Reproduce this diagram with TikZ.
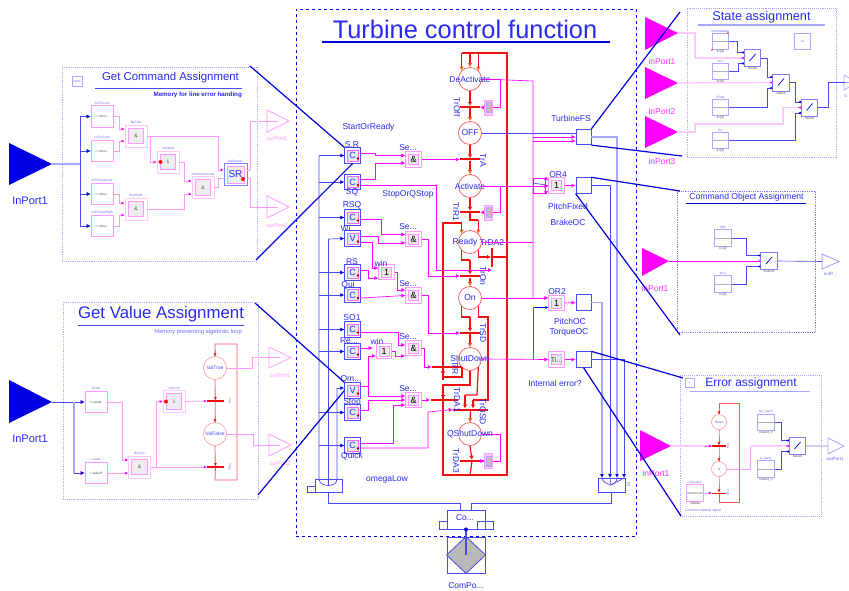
\documentclass[tikz,border=0pt]{standalone}
\usepackage{fontspec}
\setmainfont{Liberation Sans}
\usetikzlibrary{arrows.meta,calc}
\definecolor{tblue}{HTML}{2A2AF0}
\definecolor{dblue}{HTML}{0000E0}
\definecolor{mblue}{HTML}{4A4AF0}
\definecolor{lblue}{HTML}{A8A8FF}
\definecolor{pnk}{HTML}{FF33FF}
\definecolor{lpnk}{HTML}{FF99FF}
\definecolor{vpnk}{HTML}{FFC8FF}
\definecolor{mag}{HTML}{FF00FF}
\definecolor{rd}{HTML}{F01010}
\definecolor{org}{HTML}{F06010}
\newcommand\ft[1]{\fontsize{#1}{#1}\selectfont}
\tikzset{
 x=1pt,y=-1pt,
 txt/.style={inner sep=0pt,text=tblue,font=\ft{8.5}},
 ptxt/.style={inner sep=0pt,text=pnk,font=\ft{8.5}},
 tinyt/.style={inner sep=0pt,text=tblue!70,font=\ft{3.2}},
 frm/.style={draw=lblue,densely dotted,line width=.9pt,fill=white,inner sep=0pt},
 bw/.style={draw=mblue,line width=.7pt},
 bl/.style={draw=lblue,line width=1.3pt},
 bt/.style={bw,-{Latex[length=4pt,width=4pt,color=dblue]}},
 pw/.style={draw=mag,line width=.65pt},
 pl/.style={draw=lpnk,line width=.7pt},
 pv/.style={draw=vpnk,line width=1.3pt},
 pt/.style={pw,-{Latex[length=4pt,width=4pt]}},
 plt/.style={pl,-{Latex[length=3pt,width=3pt,color=mag]}},
 rw/.style={draw=rd,line width=1.2pt},
 rb/.style={draw=rd,line width=2pt,line join=miter},
 ra/.style={rw,-{Latex[length=4pt,width=4.5pt,color=rd]}},
 ro/.style={rw,-{Latex[length=4pt,width=4.5pt,color=org]}},
 st/.style={circle,draw=rd!75,fill=white,line width=.6pt,minimum size=23pt,inner sep=0pt},
 tbar/.style={fill=rd,inner sep=0pt,minimum height=2pt,minimum width=20pt},
 vbar/.style={fill=rd,inner sep=0pt,minimum height=19pt,minimum width=1.6pt},
 diag/.style={draw=dblue,line width=1.2pt},
 obox/.style={draw=mblue,line width=.8pt,fill=white,minimum width=15pt,minimum height=15.5pt,inner sep=0pt},
 outb/.style={draw=mblue,line width=.8pt,fill=white,minimum size=15.5pt,inner sep=0pt},
 inn/.style={draw=mag!60,line width=.7pt,fill=gray!18,minimum size=11pt,inner sep=0pt,text=tblue,font=\ft{9}},
 pout/.style={draw=mag!70,line width=.7pt,fill=white,minimum size=15.5pt,inner sep=0pt},
 pblk/.style={draw=lpnk,line width=.7pt,fill=white,minimum width=22pt,minimum height=21.5pt,inner sep=0pt,text=black!70,font=\ft{3.2}},
 pgrp/.style={draw=vpnk,line width=.8pt,fill=white,minimum size=22pt,inner sep=0pt},
 pgin/.style={draw=lpnk,line width=.6pt,fill=gray!14,minimum size=15.5pt,inner sep=0pt,text=black!70,font=\ft{5}},
 kblk/.style={draw=lblue,line width=.7pt,fill=white,minimum width=16.5pt,minimum height=16.5pt,inner sep=0pt},
 tiks/.style={draw=lpnk,line width=.7pt,fill=vpnk,minimum width=8.5pt,minimum height=15pt,inner sep=0pt},
 tiki/.style={draw=lblue,fill=gray!50,minimum width=4.5pt,minimum height=10pt,inner sep=0pt},
}
\newcommand\cblk[4]{\node[outb] (#1) at (#2,#3) {};\node[inn] (#1-i) at (#2,#3) {#4};\fill[red!70!black] (#2+5.5,#3+3) circle (1.3pt);}
\newcommand\lgk[4]{\node[pout,draw=lpnk] (#1) at (#2,#3) {};\node[inn,minimum size=10pt,draw=lpnk,text=black] (#1-i) at (#2,#3) {#4};}
\newcommand\pgb[5]{\node[pgrp] (#1) at (#2,#3) {};\node[pgin] (#1-i) at (#2,#3) {#4};\node[tinyt] (#1-l) at (#2,#3-13.5) {#5};}
\newcommand\pbk[5]{\node[pblk] (#1) at (#2,#3) {#4};\node[tinyt] (#1-l) at (#2,#3-13.5) {#5};}
\newcommand\kbk[5]{\node[kblk] (#1) at (#2,#3) {};\draw[draw=gray!60,line width=.8pt] (#1.west) -- (#1.east);\node[tinyt] (#1-a) at (#2,#3-10.5) {#4};\node[tinyt,text=black!70] (#1-b) at (#2,#3+10.5) {#5};}
\newcommand\swb[4]{\node[kblk,draw=mblue!70,minimum height=17pt] (#1) at (#2,#3) {};\draw[draw=dblue,line width=.7pt] (#2-3,#3+3) -- (#2+3,#3-4);\node[tinyt,text=black!70] (#1-l) at (#2,#3+10.5) {#4};}
\newcommand\tri[7]{\fill[#7] (#2,#3) -- (#2,#4) -- (#5,#6) -- cycle;\coordinate (#1) at (#5,#6);}
\newcommand\otri[7]{\draw[#7,line width=.7pt,fill=white] (#2,#3) -- (#2,#4) -- (#5,#6) -- cycle;\coordinate (#1) at (#2,#6);}
\newcommand\lab[4][txt]{\node[#1] at #3 (#2) {#4};}
\newcommand\rlab[3]{\node[txt,rotate=-90] at #2 (#1) {#3};}
\newcommand\sw[1]{\fill[dblue] ([yshift=5.5pt,xshift=-3pt]#1.west) -- ++(3,-1.2) -- ++(0,2.4) -- cycle;
 \fill[mag] ([xshift=-3pt]#1.west) -- ++(3,-1.2) -- ++(0,2.4) -- cycle;
 \fill[dblue] ([yshift=-5.5pt,xshift=-3pt]#1.west) -- ++(3,-1.2) -- ++(0,2.4) -- cycle;}
\begin{document}
\begin{tikzpicture}
\useasboundingbox (0,0) rectangle (849,591);
\fill[white] (0,0) rectangle (849,591);

%================ main frame
\node[draw=dblue,dashed,line width=.8pt,minimum width=340pt,minimum height=527pt,inner sep=0pt] (main) at (466,273) {};
\node[txt,font=\ft{25.4}] (title) at (465,29) {Turbine control function};
\draw[dblue,line width=1.2pt] (322,42) -- (610,42);

%---------------- left column blocks
\cblk{SR}{352.5}{155.5}{C}
\cblk{SQ}{352.5}{182}{C}
\cblk{RSQ}{352.5}{217.5}{C}
\cblk{Wi}{352.5}{238.5}{V}
\cblk{RS}{352.5}{272.5}{C}
\cblk{Qui}{352.5}{295}{C}
\cblk{SOa}{352.5}{329.5}{C}
\cblk{Re}{352.5}{351.5}{C}
\cblk{Om}{352.5}{390.5}{V}
\cblk{Stop}{352.5}{412.5}{C}
\cblk{Quick}{352.5}{445.5}{C}
\lab{lSR}{(352,145)}{S.R}
\lab{lSQ}{(352,192.5)}{SQ}
\lab{lRSQ}{(352,205)}{RSQ}
\lab{lWi}{(349,228)}{Wi...}
\lab{lRS}{(352,262)}{RS}
\lab{lQui}{(348,285)}{Qui}
\lab{lSO}{(352,318)}{SO1}
\lab{lRe}{(349,341)}{Re...}
\lab{lOm}{(351,379)}{Om...}
\lab{lStop}{(352,402)}{Stop}
\lab{lQuick}{(352,456)}{Quick}
\lab{lStart}{(368.5,127)}{StartOrReady}
\lab{lStopQ}{(408,194)}{StopOrQStop}
\lab{lOmega}{(387,479)}{omegaLow}

%---------------- logic blocks
\lgk{Sa}{413.5}{159.5}{\&}
\lgk{Sb}{413.5}{239}{\&}
\lgk{Sc}{413.5}{295.5}{\&}
\lgk{Sd}{413.5}{348}{\&}
\lgk{Se}{413.5}{400}{\&}
\lgk{Wa}{386.5}{272}{1}
\lgk{Wb}{384}{351}{1}
\lab{lSa}{(408,148)}{Se...}
\lab{lSb}{(408,227)}{Se...}
\lab{lSc}{(408,284)}{Se...}
\lab{lSd}{(408,336.5)}{Se...}
\lab{lSe}{(408,388.5)}{Se...}
\lab{lWa}{(381,263)}{win}
\lab{lWb}{(377,341)}{win}

%---------------- bottom component
\node[draw=mblue,line width=.8pt,fill=white,minimum width=38pt,minimum height=19pt,inner sep=0pt] (Co) at (466,519.5) {};
\lab{lCo}{(465,518)}{Co...}
\node[draw=mblue,line width=.8pt,minimum width=8pt,minimum height=8pt,inner sep=0pt] (CoA) at (443,525) {};
\node[draw=mblue,line width=.8pt,minimum width=8pt,minimum height=8pt,inner sep=0pt] (CoB) at (481,525) {};
\node[draw=mblue,line width=.8pt,minimum width=8pt,minimum height=8pt,inner sep=0pt] (CoC) at (489,525) {};
\node[draw=mblue,line width=.9pt,minimum width=38pt,minimum height=36pt,inner sep=0pt] (Cmp) at (466,555) {};
\fill[gray!55] (Cmp.west) -- (Cmp.north) -- (Cmp.east) -- (Cmp.south) -- cycle;
\draw[mblue,line width=.8pt] (Cmp.west) -- (Cmp.north) -- (Cmp.east) -- (Cmp.south) -- cycle;
\draw[mblue,line width=1.2pt] (Co.south) -- (Cmp.center);
\fill[dblue] (Co.south) circle (2pt);
\lab{lCmp}{(466,586)}{ComPo...}

%---------------- buses
\coordinate (busA) at (319,156);
\coordinate (busB) at (328,239);
\coordinate (busC) at (337,388);
\node[draw=mblue,line width=.8pt,minimum width=27pt,minimum height=13pt,inner sep=0pt] (muxL) at (328.5,485.5) {};
\node[draw=mblue,line width=.7pt,minimum width=8pt,minimum height=6pt,inner sep=0pt] (muxLs) at (311,489) {};
\draw[bw] (busA) -- (busA |- muxL.north) .. controls (319,484) and (324,485) .. (muxL.center);
\draw[bw] (busB) -- (busB |- muxL.center);
\draw[bw] (busC) -- (busC |- muxL.north) .. controls (337,484) and (333,485) .. (muxL.center);
\foreach \n in {SR,SQ,RSQ,RS,Qui,SOa,Re,Stop,Quick}{\draw[bt] (busA |- \n.west) -- (\n.west);}
\draw[bt] (busB) -- (Wi.west);
\draw[bt] (busC) -- (busC -| Om.west);
\draw[bw] (muxL.south) -- ++(0,11) -| (Co.120);

%---------------- pink wires of the logic
\draw[pt] ([yshift=2.5pt]SR.east) -- ++(15,0) |- ([yshift=4pt]Sa.west);
\draw[pt] ([yshift=3pt]SQ.east) -- ++(15,0) |- ([yshift=-3.5pt]Sa.west);
\draw[pt] ([yshift=-1.5pt]RSQ.east) -- ++(21,0) |- ([yshift=4.5pt]Sb.west);
\draw[pt] ([yshift=2.5pt]Wi.east) -- ++(18,0) |- ([yshift=-4pt]Sb.west);
\draw[pt] ([yshift=-3.5pt]Wi.east) -- ++(12,0) |- ([yshift=4pt]Wa.west);
\draw[pt] ([yshift=2.5pt]RS.east) -- ++(8,0) |- ([yshift=-6pt]Wa.west);
\draw[pt] (Wa.east) -- ++(3,0) |- ([yshift=5.5pt]Sc.west);
\draw[pt] ([yshift=-3pt]Qui.east) -- (Sc.west);
\draw[pt] ([yshift=-2.5pt]SOa.east) -- ++(38,0) |- ([yshift=3pt]Sd.west);
\draw[pt] ([yshift=3.5pt]Re.east) -- ++(12,0);
\draw[pt] ([yshift=4.5pt]Om.east) -- ++(8,0) |- ([yshift=-5pt]Wb.west);
\draw[pt] (Wb.east) -- ++(3,0) |- ([yshift=-8pt]Sd.west);
\draw[pt] ([yshift=4.5pt]Om.east) ++(8,0) |- ([yshift=4pt]Se.west);
\draw[pt] ([yshift=2.5pt]Stop.east) -- ++(8,0) |- (Se.west);
\draw[pt] ([yshift=2.5pt]Quick.east) -- ++(33,0) |- ([yshift=-5pt]Se.west);

%================ state machine
\coordinate (loopT) at (507,53);
\node[st] (sDe) at (470,79) {};
\node[st] (sOff) at (470,133) {};
\node[st] (sAct) at (470,186) {};
\node[st] (sRdy) at (470,242) {};
\node[st] (sOn) at (470,298) {};
\node[st] (sSD) at (470,359) {};
\node[st] (sQ) at (470,434) {};
\node[tbar] (tOff) at (470,107) {};
\node[tbar] (tA) at (470,159.5) {};
\node[tbar] (tRa) at (470,212) {};
\node[tbar,minimum height=2.6pt] (tOn) at (470,276) {};
\node[tbar] (tSD) at (470,333) {};
\node[tbar,minimum width=30pt,minimum height=2.6pt] (tRb) at (447,367) {};
\node[tbar,minimum width=27pt,minimum height=2.6pt] (tDAa) at (444,400) {};
\node[tbar,minimum width=35pt] (tQSD) at (470.5,409.5) {};
\node[tbar,minimum width=24pt] (tDAc) at (472,461) {};
\node[vbar] (tRDA) at (492,257) {};
% outer loop
\draw[rb] (sDe.135 |- loopT) -- (loopT) -- (507,475) -- (443,475) -- (443,385) -- (470,385) -- (sSD.south);
\draw[rb] (sRdy.135 |- 443,223) -- (443,223) -- (443,377) -- (sSD.225 |- 443,377) -- (sSD.225);
\draw[ro] (sDe.135 |- loopT) -- (sDe.135);
\draw[ro] (sDe.north |- loopT) -- (sDe.north);
\draw[ro] (sDe.45 |- loopT) -- (sDe.45);
\draw[ro] (tOff) -- (sOff.north);
\draw[ra] (sDe.south) -- (tOff.north);
\draw[ra] (sOff.south) -- (tA.north);
\draw[ro] (tA) -- (sAct.north);
\draw[ra] (sAct.south) -- (tRa.north);
\draw[rw] (tRa) -- (470,220) -- (sRdy.45 |- 470,220);
\draw[ro] (sRdy.45 |- 470,220) -- (sRdy.45);
\draw[ro] (sRdy.135 |- 443,223) -- (sRdy.135);
\draw[rw] (sRdy.225) -- (sRdy.225 |- 470,260) -- (470,260);
\draw[ra] (470,260) -- (tOn.north);
\draw[ro] (tOn) -- (sOn.north);
\draw[ra] (sRdy.315) |- (tRDA.west);
\draw[rb] (tRDA.center) -- (tRDA -| loopT);
\draw[rw] (sOn.225) -- (sOn.225 |- 470,317) -- (470,317);
\draw[ra] (470,317) -- (tSD.north);
\draw[ro] (tSD) -- (sSD.north);
\draw[rw] (sOn.315) -- (sOn.315 |- 488,317) -- (488,317) -- (488,400) -- (473,400);
\draw[ra] (473,400) -- (473,408.5);
\draw[rw] (sSD.315) -- (477,395) -- (465,395);
\draw[ra] (465,395) -- (465,408.5);
\draw[ra] (443,380) -- (443,368.5);
\draw[ra] (443,385) -- (443,399);
\draw[ro] (tQSD) -- (sQ.north);
\draw[ra] (sQ.south) -- (tDAc.north);
\draw[rw] (tDAc) -- (470,475);
% small feedback boxes
\node[tiks] (bOff) at (488.5,107.5) {};\node[tiki] (bOff-i) at (488.5,107.5) {};
\node[tiks] (bR) at (488.5,212.5) {};\node[tiki] (bR-i) at (488.5,212.5) {};
\node[tiks] (bQ) at (488.5,461) {};\node[tiki] (bQ-i) at (488.5,461) {};
\draw[pt] (bOff.west) -- (tOff.east);
\draw[pt] (bR.west) -- (tRa.east);
\draw[pt] (bQ.west) -- (tDAc.east);
\draw[pw] (sDe.east) -- (500,79) |- (bOff.east);
\draw[pw] (sAct.east) -- (500,186) |- (bR.east);
\draw[pw] (sQ.east) -- (500,434) |- (bQ.east);
% state labels
\lab{lDe}{(470,79.5)}{DeActivate}
\lab{lOff}{(470,133)}{OFF}
\lab{lAct}{(470,186)}{Activate}
\lab{lRdy}{(465,242)}{Ready}
\lab{lRDA}{(492,243)}{TrDA2}
\lab{lOn}{(470,298)}{On}
\lab{lSD}{(470,358.5)}{ShutDown}
\lab{lQ}{(470,434)}{QShutDown}
\rlab{rOff}{(457,107)}{TrOff}
\rlab{rA}{(483,160)}{TrA}
\rlab{rR}{(456,212)}{TrR1}
\rlab{rOn}{(483,276)}{TrOn}
\rlab{rSD}{(483,333)}{TrSD}
\rlab{rRb}{(455,368)}{TrR}
\rlab{rDAa}{(457,400)}{TrDA1}
\rlab{rQSD}{(482,412)}{TrQSD}
\rlab{rDAc}{(456,461)}{TrDA3}

% wires into state machine
\draw[pw,line width=1pt,-{Latex[length=4pt,width=4pt]}] (Sa.east) -- (tA.west);
\draw[pt] (Sb.east) -- (428,239) |- (tOn.west);
\draw[pt] (Sc.east) -- (428,295.5) |- (tSD.west);
\draw[pt] (Sd.east) -- (424,348) |- (tRb.west);
\draw[pw,line width=1pt,-{Latex[length=4pt,width=4pt]}] (Se.east) -- (tDAa.west);
\draw[pt] ([yshift=-3pt]SQ.east) -- (436,185) -- (436,270) -- (tRDA.south |- 436,270);
\draw[pt] ([yshift=-2.5pt]Quick.east) -- (428,448) -- (428,412) -- (tQSD.west);

%================ right-hand column
\node[obox] (oA) at (583.5,137) {};
\node[obox] (oB) at (583.5,185.5) {};
\node[obox] (oC) at (583.5,302.5) {};
\node[obox] (oD) at (583.5,359.5) {};
\lgk{ORa}{556.5}{185.5}{1}
\lgk{ORb}{556.5}{303}{1}
\lgk{Ti}{556.5}{359.5}{}
\node[inner sep=0pt,text=black!70,font=\ft{7}] (Ti-t) at (556.5,359.5) {Ti...};
\lab{lOFS}{(571,118)}{TurbineFS}
\lab{lORa}{(558,175)}{OR4}
\lab{lPF}{(568,206)}{PitchFixed}
\lab{lBr}{(568,222)}{BrakeOC}
\lab{lORb}{(557,292)}{OR2}
\lab{lPO}{(570,321)}{PitchOC}
\lab{lTO}{(569,332)}{TorqueOC}
\lab{lIE}{(555,383)}{Internal error?}
% pink vertical bus
\coordinate (pvb) at (533,81);
\draw[pw] (sDe.east) -- (pvb) -- (533,298);
\draw[pw] (sRdy.east) -- (533,242);
\draw[bw,line width=.9pt] (sOff.east) -- (sOff -| oA.west);
\draw[pt] (533,137) -- (oA.west);
\draw[pt] (533,141) -- ([yshift=-4pt]oA.west);
\draw[pw] (533,178) -- (545,178) -- (545,193) -- (533,193) -- cycle;
\draw[bw] (533,183) -- (ORa.west);
\draw[pt] (sAct.east) -- ([yshift=-.5pt]ORa.west);
\draw[pt] (545,178) -- ([yshift=5pt]ORa.west);
\draw[pt] (545,193) -- ([yshift=-5pt]ORa.west);
\draw[pt] (ORa.east) -- (oB.west);
\draw[pt] (sOn.east) -- ([yshift=5pt]ORb.west);
\draw[pt] (ORb.east) -- (oC.west);
\draw[pt] (sSD.east) -- (Ti.west);
\draw[pt] (Ti.east) -- (oD.west);
\draw[bw] (533,359.5) -- (533,307.5) -- ([yshift=-4.5pt]ORb.west);
\draw[-{Latex[length=3pt,width=3pt]},dblue,line width=.6pt] (535,307.5) -- ([yshift=-4.5pt]ORb.west);

% right mux
\node[draw=mblue,line width=.8pt,minimum width=27pt,minimum height=14pt,inner sep=0pt] (muxR) at (611.5,485) {};
\draw[bl,-{Latex[length=4pt,width=4pt,color=dblue]}] (oA.east) -- (617,137) -- (617,478);
\draw[bw,-{Latex[length=4pt,width=4pt,color=dblue]}] (oB.east) -- (610,185.5) -- (610,478);
\draw[bl,-{Latex[length=4pt,width=4pt,color=dblue]}] (oC.east) -- (602,302.5) -- (602,478);
\draw[bw,-{Latex[length=4pt,width=4pt,color=dblue]}] (oD.east) -- (624,359.5) -- (624,478);
\draw[bw] (602,478) .. controls (602,482) and (608,484) .. (611,485) .. controls (614,484) and (617,482) .. (617,478);
\draw[bw] (610,478) -- (611,485) -- (624,478);
\node[tinyt,font=\ft{4.5},rotate=90] (muxRl) at (628.5,485) {M};
\draw[bw] (muxR.south) -- ++(0,11) -| (Co.60);

%================ panel: Get Command Assignment
\node[frm,minimum width=195pt,minimum height=194pt] (pA) at (159.5,164) {};
\node[txt,font=\ft{11.4}] (pAt) at (170.5,77.5) {Get Command Assignment};
\draw[mblue,line width=.7pt] (95,88) -- (242,88);
\node[txt,font=\bfseries\ft{6.2},anchor=east] (pAs) at (242,95) {Memory for  line error handing};
\node[draw=lblue,line width=.7pt,minimum size=10pt,inner sep=0pt,tinyt] (pAb) at (77,81) {com1};
\tri{ipA}{9}{143}{185}{52}{164}{dblue}
\lab[txt,font=\ft{11}]{lipA}{(30,201)}{InPort1}
\pbk{aA}{102}{116.5}{> const...}{GrTh.Com}
\pbk{aB}{102}{151}{> const...}{LoTh.Com}
\pbk{aC}{102}{194}{> const...}{GrTh.ComLow}
\pbk{aD}{102}{226}{> const...}{LoTh.ComHigh}
\pgb{aBy}{136}{136}{\&}{ByCom}
\pgb{aHq}{136}{209}{\&}{HeqSwBr}
\pgb{aNo}{168}{162}{1}{noReset}
\pgb{aOt}{203}{187.5}{\&}{OtherCommand}
\node[draw=mblue!70,fill=white,line width=.7pt,minimum width=23pt,minimum height=21.5pt,inner sep=0pt] (aSR) at (235.5,174.5) {};
\node[pgin,text=tblue,font=\ft{10},minimum size=17pt] (aSR-i) at (235.5,174.5) {SR};
\node[tinyt] (aSR-l) at (235,161) {SetReset1};
\otri{oA1}{267}{110}{132}{289}{121}{lpnk}
\otri{oA2}{267}{196}{218}{289}{207}{lpnk}
\lab[ptxt,font=\ft{5.5},text=lpnk]{loA1}{(277,139)}{outPort1}
\lab[ptxt,font=\ft{5.5},text=lpnk]{loA2}{(277,226)}{outPort2}
\draw[bl] (ipA) -- (80,164);
\draw[bw] (80,116.5) -- (80,226);
\foreach \n in {aA,aB,aC,aD}{\draw[bt,line width=.5pt] (80,0 |- \n.west) -- (\n.west);}
\draw[plt] (aA.east) -- (119,116.5) |- ([yshift=7pt]aBy.west);
\draw[plt] (aB.east) -- (119,151) |- ([yshift=-5pt]aBy.west);
\draw[plt] (aC.east) -- (119,194) |- ([yshift=6pt]aHq.west);
\draw[plt] (aD.east) -- (119,226) |- ([yshift=-6pt]aHq.west);
\draw[plt] (aBy.east) -- (218,136) |- ([yshift=4.5pt]aSR.west);
\draw[plt] (150,136) |- (aNo.west);
\fill[rd] (160.5,162) circle (2pt);
\draw[plt] (aNo.east) -- (184,162) |- ([yshift=6.5pt]aOt.west);
\draw[plt] (aHq.east) -- (184,209) |- ([yshift=-6.5pt]aOt.west);
\draw[pl] (aOt.east) -- (218,187.5) |- ([yshift=-3.5pt]aSR.west);
\draw[pl] ([yshift=4.5pt]aSR.east) -- (250,170) |- (oA1);
\draw[pl] ([yshift=-3.5pt]aSR.east) -- (250,178) |- (oA2);
\draw[pl] (oA1) -- (278,121);
\draw[pl] (oA2) -- (278,207);
\fill[rd] (243,179) circle (2pt);

%================ panel: Get Value Assignment
\node[frm,minimum width=195pt,minimum height=197pt] (pB) at (160.5,400.5) {};
\node[txt,font=\ft{16.8}] (pBt) at (161,314) {Get Value Assignment};
\draw[mblue,line width=.9pt] (78,325) -- (244,325);
\node[txt,text=mblue!80,font=\ft{5.8},anchor=east] (pBs) at (242,332) {Memory preventing algebraic loop};
\tri{ipB}{9}{380}{423}{52}{402}{dblue}
\lab[txt,font=\ft{11}]{lipB}{(30,439)}{InPort1}
\pbk{bG}{96}{402}{> valueL}{GrVal}
\pbk{bL}{96}{473}{< valueR}{LoVal}
\pgb{bBy}{139.5}{467}{\&}{ByCom}
\pgb{bNo}{174}{401.5}{1}{NoCom}
\node[st,draw=rd!50,line width=.5pt] (bT) at (215,368) {};
\node[st,draw=rd!50,line width=.5pt] (bF) at (215,434) {};
\lab[txt,font=\ft{5},text=mblue]{lbT}{(215,368)}{ValTrue}
\lab[txt,font=\ft{5},text=mblue]{lbF}{(215,434)}{ValFalse}
\node[tbar,minimum width=17pt,minimum height=1.5pt] (bTa) at (215.5,401) {};
\node[tbar,minimum width=17pt,minimum height=1.5pt] (bTb) at (215.5,467) {};
\node[tinyt,rotate=-90] (rTa) at (230,401) {TrA};
\node[tinyt,rotate=-90] (rTb) at (230,467) {TrA1};
\draw[draw=rd!70,line width=.8pt] (bT.north) -- (215,344) -- (237,344) -- (237,480) -- (215,480) -- (bTb);
\draw[draw=rd!40,line width=1.2pt] (bT.south) -- (bTa) -- (bF.north);
\draw[draw=rd!40,line width=1.2pt] (bF.south) -- (bTb);
\draw[-{Latex[length=3pt,width=3pt,color=rd]},draw=rd!60,line width=.5pt] (215,350) -- (bT.north);
\draw[-{Latex[length=3pt,width=3pt,color=rd]},draw=rd!60,line width=.5pt] (215,390) -- (bTa.north);
\draw[-{Latex[length=3pt,width=3pt,color=rd]},draw=rd!60,line width=.5pt] (215,416) -- (bF.north);
\draw[-{Latex[length=3pt,width=3pt,color=rd]},draw=rd!60,line width=.5pt] (215,456) -- (bTb.north);
\otri{oB1}{269}{347}{368}{291}{357.5}{lpnk}
\otri{oB2}{269}{434}{456}{291}{445}{lpnk}
\lab[ptxt,font=\ft{5.5},text=lpnk]{loB1}{(280,376)}{outPort1}
\lab[ptxt,font=\ft{5.5},text=lpnk]{loB2}{(280,464)}{outPort2}
\draw[bt,line width=.6pt] (ipB) -- (bG.west);
\draw[bl] (74,402) -- (74,473);
\draw[bt,line width=.6pt] (74,473) -- (bL.west);
\draw[plt] (bG.east) -- (122,402) |- ([yshift=7pt]bBy.west);
\draw[plt] (bL.east) -- ([yshift=-6pt]bBy.west);
\draw[plt] (bBy.east) -- (bTb.west);
\draw[plt] (156,467) |- (bNo.west);
\fill[rd] (166,401.5) circle (2pt);
\draw[plt] (bNo.east) -- (bTa.west);
\draw[pl] (bT.east) -- (252,368) |- (280,357.5);
\draw[pl] (bF.east) -- (253,434) |- (280,445);

%================ panel: State assignment
\node[frm,minimum width=149pt,minimum height=149pt] (pC) at (761.5,82.5) {};
\node[txt,font=\ft{12.7}] (pCt) at (761.5,17) {State assignment};
\draw[lblue,line width=1.3pt] (698,25) -- (825,25);
\tri{ipCa}{645}{17}{50}{678}{33}{mag}
\tri{ipCb}{645}{67}{99}{678}{83}{mag}
\tri{ipCc}{645}{116}{148}{678}{132}{mag}
\lab[ptxt]{lCa}{(662,61)}{inPort1}
\lab[ptxt]{lCb}{(662,111)}{inPort2}
\lab[ptxt]{lCc}{(662,161)}{inPort3}
\kbk{cA}{720.5}{41.5}{Intermediate}{k=[0]}
\kbk{cB}{720.5}{71.5}{Int1}{k=[0]}
\kbk{cC}{720.5}{107.5}{Fixed}{k=[0]}
\kbk{cD}{720.5}{140.5}{Err}{k=[0]}
\node[kblk,tinyt] (cX) at (802.5,41.5) {x1};
\swb{sA}{752.5}{58}{Switch}
\swb{sB}{781}{82.5}{Switch}
\swb{sC}{809.5}{107.5}{Switch}
\fill[rd] (728,33) circle (.9pt) (712,50) circle (.9pt);
\draw[bw,line width=.5pt] (cA.east) -- (737,41.5) |- ([yshift=5.5pt]sA.west);
\draw[bw,line width=.5pt] (cB.east) -- (738,71.5) |- ([yshift=-5.5pt]sA.west);
\draw[pv] (ipCa) -- (695,33) |- (sA.west);
\draw[pv] (ipCb) -- (sB.west);
\draw[pv] (ipCc) -- (695,132) |- (783,124) |- (sC.west);
\draw[bw,line width=.5pt] (sA.east) -- (767,58) |- ([yshift=5.5pt]sB.west);
\draw[bw,line width=.5pt] (cC.east) -- (767,107.5) |- ([yshift=-5.5pt]sB.west);
\draw[bw,line width=.5pt] (sB.east) -- (795,82.5) |- ([yshift=5.5pt]sC.west);
\draw[bw,line width=.5pt] (cD.east) -- (795,140.5) |- ([yshift=-5.5pt]sC.west);
\sw{sA}\sw{sB}\sw{sC}
\coordinate (cOut) at (845,82);
\draw[lblue,line width=.7pt] (849,78) -- (844,75) -- (844,90) -- (849,87);
\draw[bw,line width=.5pt] (sC.east) -- (828,107.5) |- (cOut);
\draw[draw=mblue!50,line width=.8pt] (cOut) -- (849,82);
\node[tinyt,font=\ft{4}] (lcO) at (846,96) {O};

%================ panel: Command Object Assignment
\node[draw=mblue!70,densely dotted,line width=.8pt,fill=white,minimum width=138pt,minimum height=141pt,inner sep=0pt] (pD) at (746,261.5) {};
\node[txt,font=\ft{8.6}] (pDt) at (746.5,197.5) {Command  Object Assignment};
\draw[dblue,line width=.7pt] (686,203) -- (806,203);
\tri{ipD}{642}{248}{276}{669}{261}{mag}
\lab[ptxt]{lD}{(655,288)}{inPort1}
\kbk{dA}{723}{238}{Off1}{k=[2]}
\kbk{dB}{723}{284}{On1}{k=[4]}
\swb{sD}{769}{261}{Switch1}
\otri{oDa}{822}{254}{269}{839}{261.5}{mblue!60}
\lab[tinyt,font=\ft{4.5}]{lDo}{(830,274)}{outP...}
\draw[bw,line width=.5pt] (dA.east) -- (746,238) |- ([yshift=5.5pt]sD.west);
\draw[bw,line width=.5pt] (dB.east) -- (746,284) |- ([yshift=-5.5pt]sD.west);
\draw[pw,line width=.6pt] (ipD) -- (sD.west);
\draw[bw,line width=.6pt] (sD.east) -- (oDa);
\sw{sD}

%================ panel: Error assignment
\node[frm,minimum width=141pt,minimum height=141pt] (pE) at (750.5,445.5) {};
\node[txt,font=\ft{12}] (pEt) at (751,383) {Error assignment};
\draw[lblue,line width=1pt] (690,391) -- (810,391);
\node[draw=lblue,line width=.7pt,minimum size=9pt,inner sep=0pt,tinyt] (pEb) at (689.5,383) {=};
\tri{ipE}{640}{430}{461}{671}{446}{mag}
\lab[ptxt]{lE}{(656,473)}{inPort1}
\node[st,draw=rd!50,minimum size=15pt,line width=.5pt] (eN) at (719,422) {};
\node[st,draw=rd!50,minimum size=15pt,line width=.5pt] (eA) at (719,469) {};
\lab[tinyt,font=\ft{3.5}]{leN}{(719,422)}{None}
\lab[tinyt,font=\ft{3.5}]{leA}{(719,469)}{A}
\node[tbar,minimum width=14pt,minimum height=1.6pt] (eTa) at (719,446) {};
\node[tbar,minimum width=14pt,minimum height=1pt] (eTb) at (719,493) {};
\node[tinyt,rotate=-90] (erA) at (728,446) {TrA};
\node[tinyt,rotate=-90] (erB) at (728,493) {TrA1};
\draw[draw=rd!70,line width=.7pt] (eN.north) -- (719,403) -- (739,403) -- (739,502) -- (719,502) -- (eTb);
\draw[draw=rd!40,line width=1pt] (eN.south) -- (eTa) -- (eA.north) (eA.south) -- (eTb);
\draw[-{Latex[length=3pt,width=3pt,color=rd]},draw=rd!60,line width=.5pt] (719,408) -- (eN.north);
\draw[-{Latex[length=3pt,width=3pt,color=rd]},draw=rd!60,line width=.5pt] (719,436) -- (eTa.north);
\draw[-{Latex[length=3pt,width=3pt,color=rd]},draw=rd!60,line width=.5pt] (719,455) -- (eA.north);
\draw[-{Latex[length=3pt,width=3pt,color=rd]},draw=rd!60,line width=.5pt] (719,483) -- (eTb.north);
\node[kblk,draw=lpnk] (eC) at (695,493) {};
\draw[gray!40,line width=1.2pt] (eC.west) -- (eC.east);
\node[tinyt] (eCa) at (695,482.5) {Constant};
\node[tinyt,text=black!70] (eCb) at (695,503.5) {InitMsk};
\draw[plt] (eC.east) -- (eTb.west);
\kbk{eBa}{766}{422.5}{Nu\_Start1}{Instant\_n}
\kbk{eBb}{766}{469}{A\_start1}{Instant\_n}
\swb{sE}{797.5}{446}{Switch}
\otri{oEa}{828}{438}{454}{844}{446}{lblue}
\lab[tinyt,font=\ft{4.5}]{lEo}{(835,459)}{outPort1}
\lab[tinyt,font=\ft{3.4}]{lEc}{(703,511)}{Common externa signal}
\draw[pv] (ipE) -- (eTa.west);
\draw[-{Latex[length=3pt,width=3pt,color=mag]},draw=mag!60,line width=.4pt] (705,446) -- (eTa.west);
\draw[pl] (eA.east) -- (750,469) |- (sE.west);
\draw[pv] (750,446) -- (sE.west);
\draw[bw,line width=.5pt] (eBa.east) -- (781,422.5) |- ([yshift=5.5pt]sE.west);
\draw[bw,line width=.5pt] (eBb.east) -- (781,469) |- ([yshift=-5.5pt]sE.west);
\draw[bl,draw=lblue!60] (sE.east) -- (oEa);
\sw{sE}

%================ zoom lines
\coordinate (dAa) at (250,66);
\coordinate (dAb) at (256,260);
\coordinate (dBa) at (255,303);
\coordinate (dBb) at (258,495);
\coordinate (dCa) at (680,12);
\coordinate (dCb) at (682,156);
\coordinate (dDa) at (680,191);
\coordinate (dDb) at (680,335);
\coordinate (dEa) at (683,378);
\coordinate (dEb) at (681,516);
\draw[diag] (dAa) -- (SR.north west);
\draw[diag] (dAb) -- (SR.south);
\draw[diag] (dBa) -- (Om.north west);
\draw[diag] (dBb) -- (Om.west);
\draw[diag] (dCa) -- (oA.north east);
\draw[diag] (dCb) -- (oA.south east);
\draw[diag] (dDa) -- (oB.north east);
\draw[diag] (dDb) -- (oB.south west);
\draw[diag] (dEa) -- (oD.north east);
\draw[diag] (dEb) -- (oD.south);
\end{tikzpicture}
\end{document}
